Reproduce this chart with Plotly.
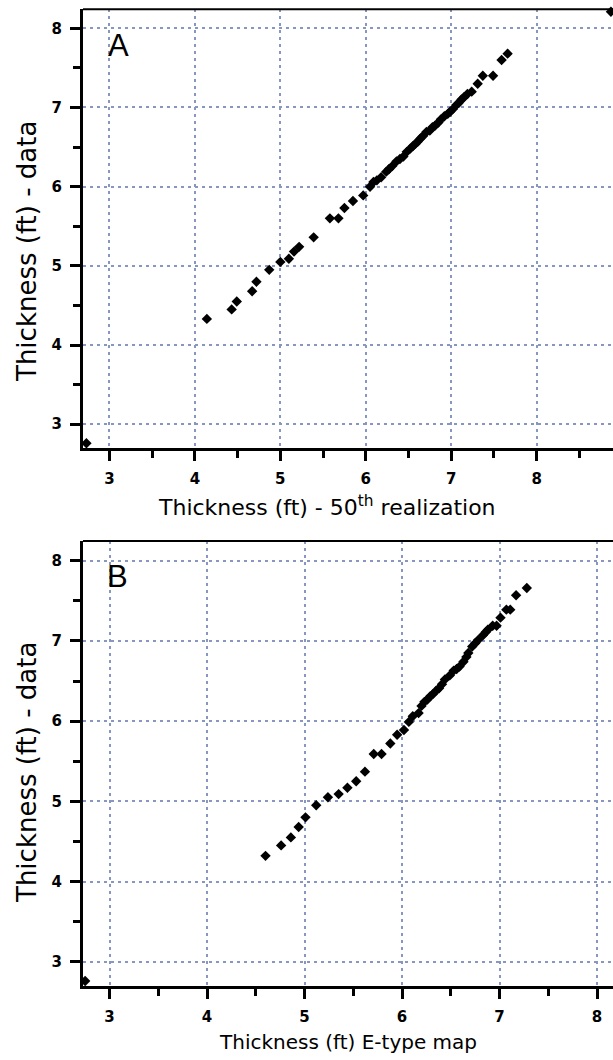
import plotly.graph_objects as go

# Panel A: thickness from the 50th realization vs. measured thickness
real50_x = [2.73, 4.14, 4.43, 4.49, 4.67, 4.72, 4.87, 5.00, 5.10, 5.16, 5.22, 5.39,
            5.58, 5.68, 5.75, 5.85, 5.97, 6.05, 6.09, 6.13, 6.18, 6.24, 6.27, 6.31,
            6.36, 6.40, 6.44, 6.48, 6.52, 6.55, 6.58, 6.61, 6.64, 6.67, 6.71, 6.75,
            6.78, 6.81, 6.85, 6.88, 6.92, 6.96, 6.99, 7.02, 7.06, 7.09, 7.12, 7.15,
            7.19, 7.24, 7.31, 7.37, 7.49, 7.59, 7.66, 8.87]
real50_y = [2.76, 4.33, 4.45, 4.55, 4.68, 4.80, 4.95, 5.05, 5.09, 5.18, 5.24, 5.36,
            5.60, 5.60, 5.73, 5.82, 5.89, 6.00, 6.06, 6.08, 6.12, 6.19, 6.22, 6.26,
            6.32, 6.35, 6.38, 6.44, 6.48, 6.51, 6.54, 6.57, 6.61, 6.64, 6.69, 6.71,
            6.75, 6.77, 6.81, 6.85, 6.89, 6.92, 6.95, 6.98, 7.03, 7.06, 7.10, 7.13,
            7.17, 7.20, 7.30, 7.40, 7.40, 7.60, 7.68, 8.21]

# Panel B: E-type map thickness vs. measured thickness
etype_x = [2.75, 4.60, 4.76, 4.86, 4.94, 5.01, 5.12, 5.24, 5.35, 5.44, 5.53, 5.62,
           5.71, 5.79, 5.88, 5.95, 6.02, 6.07, 6.11, 6.17, 6.20, 6.23, 6.26, 6.29,
           6.32, 6.35, 6.38, 6.41, 6.44, 6.49, 6.53, 6.56, 6.59, 6.63, 6.66, 6.68,
           6.72, 6.75, 6.78, 6.83, 6.86, 6.88, 6.93, 6.97, 7.01, 7.07, 7.11, 7.17, 7.28]
etype_y = [2.76, 4.32, 4.45, 4.55, 4.68, 4.80, 4.95, 5.05, 5.09, 5.17, 5.25, 5.37,
           5.59, 5.59, 5.72, 5.83, 5.89, 5.99, 6.06, 6.10, 6.19, 6.24, 6.27, 6.31,
           6.34, 6.38, 6.41, 6.46, 6.52, 6.57, 6.63, 6.65, 6.68, 6.74, 6.80, 6.85,
           6.93, 6.97, 7.01, 7.07, 7.11, 7.14, 7.19, 7.19, 7.29, 7.39, 7.39, 7.57, 7.66]

tick_vals = [3, 4, 5, 6, 7, 8]
tick_text = ["3", "4", "5", "6", "7", "8"]

W, H = 613, 1060
GRID = "#8797bf"

def px(x):
    return x / W

def py(y):
    return 1 - y / H

fig = go.Figure()

fig.add_trace(go.Scatter(x=real50_x, y=real50_y, mode="markers", xaxis="x", yaxis="y",
                         marker=dict(symbol="diamond", size=8, color="black"),
                         cliponaxis=False, showlegend=False))
fig.add_trace(go.Scatter(x=etype_x, y=etype_y, mode="markers", xaxis="x2", yaxis="y2",
                         marker=dict(symbol="diamond", size=8, color="black"),
                         cliponaxis=False, showlegend=False))

tickfont = dict(family="DejaVu Sans", size=15, color="black", weight="bold")

def xaxis(rng, anchor):
    return dict(domain=[px(83), 1.0], range=rng, anchor=anchor,
                tickvals=tick_vals, ticktext=tick_text, tickfont=tickfont,
                ticks="outside", ticklen=10, tickwidth=2.5, tickcolor="black",
                ticklabelstandoff=5,
                minor=dict(dtick=0.5, tick0=0, ticks="outside", ticklen=7,
                           tickwidth=2.5, tickcolor="black", showgrid=False),
                showline=True, linewidth=3, linecolor="black",
                showgrid=True, gridcolor=GRID, gridwidth=1.5, griddash="3px,4px",
                zeroline=False, fixedrange=True)

def yaxis(rng, dom, anchor):
    return dict(domain=dom, range=rng, anchor=anchor,
                tickvals=tick_vals, ticktext=tick_text, tickfont=tickfont,
                ticks="outside", ticklen=10, tickwidth=2.5, tickcolor="black",
                ticklabelstandoff=5,
                minor=dict(dtick=0.5, tick0=0, ticks="outside", ticklen=7,
                           tickwidth=2.5, tickcolor="black", showgrid=False),
                showline=True, linewidth=3, linecolor="black",
                showgrid=True, gridcolor=GRID, gridwidth=1.5, griddash="3px,4px",
                zeroline=False, fixedrange=True)

fig.update_layout(
    width=W, height=H,
    margin=dict(l=0, r=0, t=0, b=0),
    paper_bgcolor="white", plot_bgcolor="white",
    xaxis=xaxis([2.69, 8.894], "y"),
    yaxis=yaxis([2.70, 8.24], [py(448), py(9.3)], "x"),
    xaxis2=xaxis([2.728, 8.164], "y2"),
    yaxis2=yaxis([2.697, 8.246], [py(986), py(541)], "x2"),
)

# Top frame lines of both panels
for ytop in (9.3, 541):
    fig.add_shape(type="line", xref="paper", yref="paper",
                  x0=px(83), x1=1.0, y0=py(ytop), y1=py(ytop),
                  line=dict(color="black", width=2))

ytitle_font = dict(family="DejaVu Sans", size=26, color="black")
ann = [
    dict(text="Thickness (ft) - data", x=px(27), y=py(252), textangle=-90,
         font=ytitle_font),
    dict(text="Thickness (ft) - 50<sup>th</sup> realization", x=px(327), y=py(506),
         font=dict(family="DejaVu Sans", size=22, color="black")),
    dict(text="Thickness (ft) - data", x=px(27), y=py(773), textangle=-90,
         font=ytitle_font),
    dict(text="Thickness (ft) E-type map", x=px(348), y=py(1042),
         font=dict(family="DejaVu Sans", size=20, color="black")),
]
for a in ann:
    fig.add_annotation(xref="paper", yref="paper", showarrow=False,
                       xanchor="center", yanchor="middle", **a)

panel_font = dict(family="Liberation Sans", size=31, color="black")
fig.add_annotation(text="A", xref="paper", yref="paper", x=px(106), y=py(46),
                   xanchor="left", yanchor="middle", showarrow=False, font=panel_font)
fig.add_annotation(text="B", xref="paper", yref="paper", x=px(105), y=py(576),
                   xanchor="left", yanchor="middle", showarrow=False, font=panel_font)

fig.write_html("out.html")
